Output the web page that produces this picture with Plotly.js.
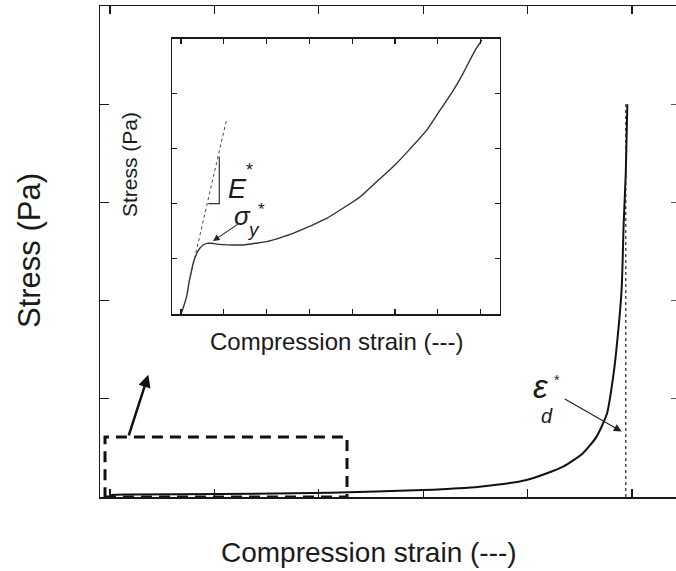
<!DOCTYPE html>
<html>
<head>
<meta charset="utf-8">
<script src="https://cdn.plot.ly/plotly-3.0.1.min.js"></script>
<style>
  html, body { margin: 0; padding: 0; overflow: hidden; background: #fff; }
  #chart { width: 676px; height: 571px; }
</style>
</head>
<body>
<div id="chart"></div>
<script>
// Main curve: compression strain vs stress (arbitrary units)
const mainStrain = [0, 0.02, 0.19, 1.05, 2.11, 3.0, 3.54, 3.99, 4.34, 4.53, 4.66, 4.76, 4.82, 4.85, 4.90, 4.92, 4.94, 4.955];
const mainStress = [0, 0.02, 0.026, 0.03, 0.044, 0.071, 0.105, 0.173, 0.309, 0.446, 0.615, 0.85, 1.23, 1.5, 2.11, 2.79, 3.30, 4.0];

// Densification strain marker
const densX = [4.94, 4.94];
const densY = [0, 4.0];

// Inset curve (zoom of the initial region)
const insetStrain = [0, 0.05, 0.13, 0.19, 0.25, 0.30, 0.37, 0.44, 0.52, 0.61, 0.72, 0.91, 1.19, 1.46, 1.73, 2.0, 2.31, 2.62, 3.01, 3.40, 3.79, 4.18, 4.56, 4.96, 5.35, 5.74, 6.05, 6.36, 6.57, 6.75, 6.89, 7.03];
const insetStress = [0, 0.11, 0.31, 0.58, 0.80, 0.96, 1.10, 1.19, 1.25, 1.28, 1.28, 1.26, 1.25, 1.25, 1.28, 1.31, 1.38, 1.46, 1.59, 1.73, 1.92, 2.12, 2.39, 2.67, 2.99, 3.33, 3.69, 4.05, 4.33, 4.60, 4.80, 4.96];

// Elastic modulus tangent and slope triangle
const tangentX = [0.19, 1.07];
const tangentY = [0.58, 3.54];
const triX = [0.638, 0.895, 0.895];
const triY = [2.00, 2.00, 2.85];

// Tick values
const mainXTicks = [0, 1, 2, 3, 4, 5];
const mainYTicks = [0, 1, 2, 3, 4, 5];
const rightYTicks = [1, 2, 3, 4];
const insetXTicks = [0, 1, 2, 3, 4, 5, 6, 7];
const insetYTicks = [0, 1, 2, 3, 4];

// Zoom box (main axes) and arrow
const boxX = [-0.048, 2.27];
const boxY = [0, 0.61];
const boxArrowTail = [0.175, 0.612];
const boxArrowTip = [0.367, 1.245];

const FONT = 'Liberation Sans, Arial, sans-serif';
const INK = '#1a1a1a';

const traces = [
  { x: mainStrain, y: mainStress, mode: 'lines', line: { color: '#111', width: 2, shape: 'spline', smoothing: 0.6 }, xaxis: 'x', yaxis: 'y', hoverinfo: 'skip' },
  { x: densX, y: densY, mode: 'lines', line: { color: '#222', width: 1.2, dash: 'dot' }, xaxis: 'x', yaxis: 'y', hoverinfo: 'skip' },
  { x: [], y: [], mode: 'lines', xaxis: 'x', yaxis: 'y3', hoverinfo: 'skip' },
  { x: insetStrain, y: insetStress, mode: 'lines', line: { color: '#333', width: 1.4, shape: 'spline', smoothing: 0.6 }, xaxis: 'x2', yaxis: 'y2', hoverinfo: 'skip' },
  { x: tangentX, y: tangentY, mode: 'lines', line: { color: '#444', width: 1, dash: 'dot' }, xaxis: 'x2', yaxis: 'y2', hoverinfo: 'skip' },
  { x: triX, y: triY, mode: 'lines', line: { color: '#333', width: 1.2 }, xaxis: 'x2', yaxis: 'y2', hoverinfo: 'skip' }
];

function axisCommon(len, w, mirror) {
  return {
    showline: true, mirror: mirror, linecolor: INK, linewidth: w,
    ticks: 'inside', ticklen: len, tickwidth: 1.2, tickcolor: INK,
    showticklabels: false, showgrid: false, zeroline: false, fixedrange: true
  };
}

// paper coordinate helpers (plot area: x 100..676, y 6..497)
const px = v => (v - 100) / 576;
const py = v => (497 - v) / 491;

function txt(text, x, y, size, opts) {
  return Object.assign({
    text: text, xref: 'paper', yref: 'paper', x: px(x), y: py(y),
    xanchor: 'center', yanchor: 'middle', showarrow: false, borderpad: 0,
    font: { family: FONT, size: size, color: INK }
  }, opts || {});
}

const annotations = [
  txt('Compression strain (---)', 369, 552, 28),
  txt('Stress (Pa)', 29, 251, 31, { textangle: -90 }),
  txt('Compression strain (---)', 336, 341, 24),
  txt('Stress (Pa)', 129, 165, 21, { textangle: -90 }),
  txt('<i>E</i>', 237, 189, 27),
  txt('*', 249, 170, 18),
  txt('<i>σ</i>', 242, 216, 26),
  txt('*', 261, 209, 17),
  txt('<i>y</i>', 253, 229, 19),
  txt('<i>ε</i>', 540, 386, 33),
  txt('*', 557, 380, 14),
  txt('<i>d</i>', 547, 416, 20),
  { x: boxArrowTip[0], y: boxArrowTip[1], ax: boxArrowTail[0], ay: boxArrowTail[1],
    xref: 'x', yref: 'y', axref: 'x', ayref: 'y', text: '', showarrow: true,
    arrowhead: 2, arrowsize: 1, arrowwidth: 2.5, arrowcolor: '#111' },
  { x: 4.90, y: 0.666, ax: 4.342, ay: 1.007,
    xref: 'x', yref: 'y', axref: 'x', ayref: 'y', text: '', showarrow: true,
    arrowhead: 2, arrowsize: 1.3, arrowwidth: 1.2, arrowcolor: '#222' },
  { x: 0.748, y: 1.321, ax: 1.362, ay: 1.647,
    xref: 'x2', yref: 'y2', axref: 'x2', ayref: 'y2', text: '', showarrow: true,
    arrowhead: 2, arrowsize: 1.2, arrowwidth: 1.1, arrowcolor: '#222' }
];

const layout = {
  width: 676, height: 571,
  margin: { l: 100, r: 0, t: 6, b: 74 },
  paper_bgcolor: '#fff', plot_bgcolor: 'rgba(0,0,0,0)',
  showlegend: false,
  xaxis: Object.assign(axisCommon(8, 1.5, 'ticks'), { range: [-0.096, 5.421], tickvals: mainXTicks, domain: [0, 1], anchor: 'y' }),
  yaxis: Object.assign(axisCommon(9, 1.5, false), { range: [0, 5], tickvals: mainYTicks, domain: [0, 1], anchor: 'x' }),
  yaxis3: {
    overlaying: 'y', side: 'right', anchor: 'x', range: [0, 5], tickvals: rightYTicks,
    showline: false, linecolor: 'rgba(0,0,0,0)', linewidth: 0, mirror: false,
    ticks: 'inside', ticklen: 5, tickwidth: 1.2, tickcolor: '#555',
    showticklabels: false, showgrid: false, zeroline: false, fixedrange: true
  },
  xaxis2: Object.assign(axisCommon(5, 1.5, 'ticks'), { range: [-0.21, 7.45], tickvals: insetXTicks, domain: [0.125, 0.6944], anchor: 'y2' }),
  yaxis2: Object.assign(axisCommon(5, 1.5, 'ticks'), { range: [0, 4.98], tickvals: insetYTicks, domain: [0.3727, 0.9328], anchor: 'x2' }),
  shapes: [
    { type: 'rect', xref: 'x', yref: 'y', x0: boxX[0], x1: boxX[1], y0: boxY[0], y1: boxY[1],
      line: { color: '#111', width: 3, dash: '11px,7px' }, fillcolor: 'rgba(0,0,0,0)' }
  ],
  annotations: annotations
};

Plotly.newPlot('chart', traces, layout, { staticPlot: true, displayModeBar: false });
</script>
</body>
</html>
